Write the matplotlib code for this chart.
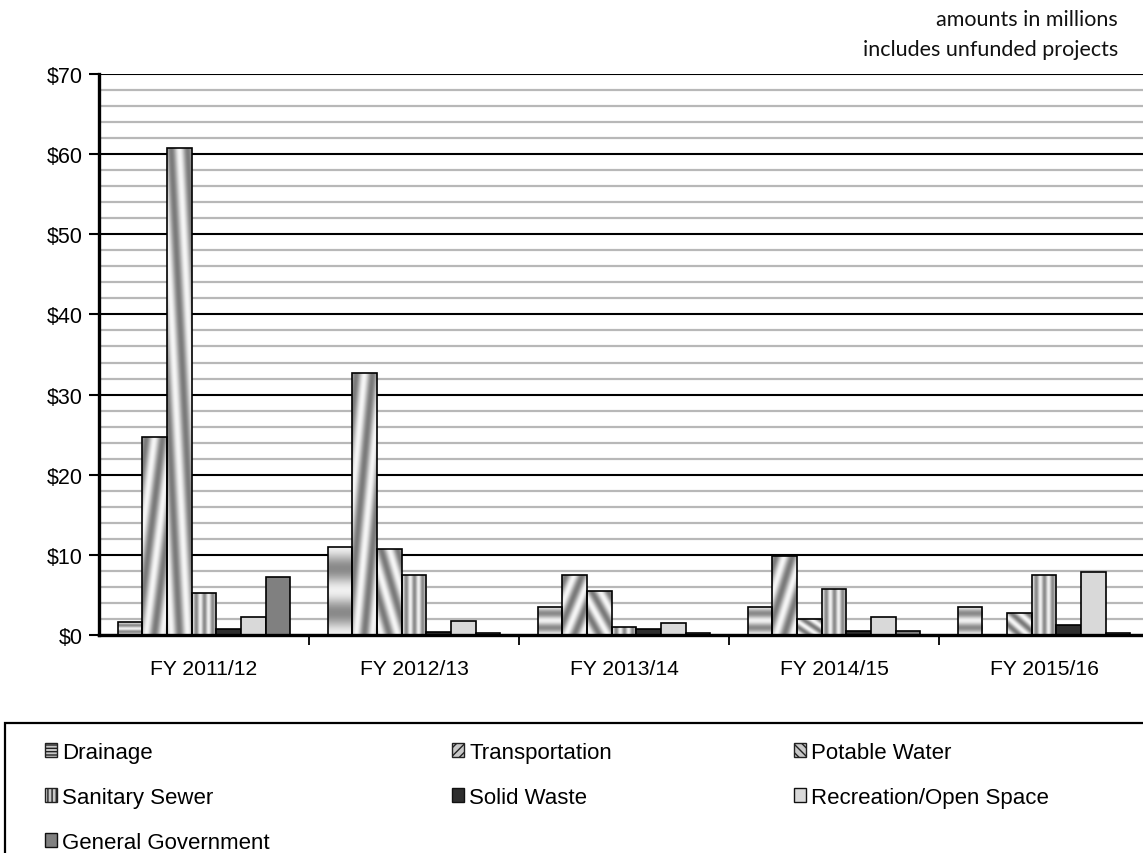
import numpy as np
import matplotlib
matplotlib.use("Agg")
import matplotlib.pyplot as plt
from matplotlib.patches import Patch, Rectangle
from matplotlib.ticker import MultipleLocator, FixedLocator, FuncFormatter

# ---------------- data ----------------
categories = ["FY 2011/12", "FY 2012/13", "FY 2013/14", "FY 2014/15", "FY 2015/16"]
series_names = ["Drainage", "Transportation", "Potable Water", "Sanitary Sewer",
                "Solid Waste", "Recreation/Open Space", "General Government"]
drainage = [1.6, 11.0, 3.5, 3.5, 3.5]
transportation = [24.7, 32.7, 7.5, 9.9, 0.0]
potable_water = [60.8, 10.7, 5.5, 2.0, 2.7]
sanitary_sewer = [5.2, 7.5, 1.0, 5.7, 7.5]
solid_waste = [0.8, 0.4, 0.8, 0.5, 1.3]
recreation = [2.3, 1.8, 1.5, 2.2, 7.8]
general_government = [7.2, 0.2, 0.3, 0.5, 0.2]
series_values = [drainage, transportation, potable_water, sanitary_sewer,
                 solid_waste, recreation, general_government]
y_tick_values = [0, 10, 20, 30, 40, 50, 60, 70]
note_lines = ["amounts in millions", "includes unfunded projects"]

# ---------------- style ----------------
plt.rcParams['font.family'] = ['Liberation Sans', 'DejaVu Sans']
W, H = 1143, 854
fig = plt.figure(figsize=(W / 100, H / 100), dpi=100)
left_px, right_px, top_px, bot_px = 99, 1149, 75, 636
ax = fig.add_axes([left_px / W, 1 - bot_px / H, (right_px - left_px) / W, (bot_px - top_px) / H])

# textures in unit square (u across, v up)
res = 160
u, v = np.meshgrid(np.linspace(0, 1, res), np.linspace(0, 1, res))
textures = {
    0: 0.74 + 0.2 * np.cos(2 * np.pi * 2 * v),
    1: 0.72 + 0.24 * np.sin(2 * np.pi * (u - v) * 1.5),
    2: 0.72 + 0.24 * np.sin(2 * np.pi * (u + v) * 1.5),
    3: 0.74 + 0.2 * np.cos(2 * np.pi * 3 * u),
}
solid_colors = {4: "#2e2e2e", 5: "#d9d9d9", 6: "#808080"}

n = len(series_names)
bw = 0.1175
x = np.arange(len(categories))
for i, vals in enumerate(series_values):
    offs = x + (i - (n - 1) / 2) * bw
    if i in textures:
        bars = ax.bar(offs, vals, width=bw, facecolor="none", edgecolor="black",
                      linewidth=1.2, zorder=4)
        for rect in bars:
            h = rect.get_height()
            if h <= 0:
                continue
            x0 = rect.get_x()
            im = ax.imshow(textures[i], extent=(x0, x0 + rect.get_width(), 0, h),
                           origin="lower", cmap="gray", vmin=0, vmax=1,
                           aspect="auto", zorder=3, interpolation="bilinear")
            im.set_clip_path(rect)
    else:
        ax.bar(offs, vals, width=bw, facecolor=solid_colors[i], edgecolor="black",
               linewidth=1.2, zorder=4)

ax.set_xlim(-0.5, len(categories) - 0.5)
ax.set_ylim(0, 70)
ax.set_aspect("auto")

# y axis
ax.yaxis.set_major_locator(FixedLocator(y_tick_values))
ax.yaxis.set_minor_locator(MultipleLocator(2))
ax.yaxis.set_major_formatter(FuncFormatter(lambda val, pos: f"${val:.0f}"))
ax.tick_params(axis="y", which="major", length=7, width=1.5, labelsize=15.5, pad=5, direction="out")
ax.tick_params(axis="y", which="minor", length=0)
ax.grid(axis="y", which="major", color="black", linewidth=1.5, zorder=1)
ax.grid(axis="y", which="minor", color="#b8b8b8", linewidth=1.6, zorder=0)

# x axis
ax.set_xticks(x)
ax.set_xticklabels(categories, fontsize=15.2)
ax.xaxis.set_minor_locator(FixedLocator(np.arange(0.5, len(categories) - 0.5, 1.0)))
ax.tick_params(axis="x", which="major", length=0, pad=17)
ax.tick_params(axis="x", which="minor", length=7, width=1.3, direction="out")

for s in ["top", "right"]:
    ax.spines[s].set_visible(False)
for s in ["left", "bottom"]:
    ax.spines[s].set_linewidth(2.4)
    ax.spines[s].set_zorder(5)
ax.set_axisbelow(False)
ax.set_facecolor("white")

# note
note_font = ["Lato", "DejaVu Sans"]
fig.text(1118 / W, 1 - 20 / H, note_lines[0], ha="right", va="center",
         fontsize=15.5, family=note_font, color="#111111")
fig.text(1118 / W, 1 - 50 / H, note_lines[1], ha="right", va="center",
         fontsize=15.5, family=note_font, color="#111111")

# legend
hatches = {0: "-----", 1: "////", 2: "\\\\\\\\", 3: "||||"}
handles = []
for i, name in enumerate(series_names):
    if i in hatches:
        handles.append(Patch(facecolor="#c8c8c8", edgecolor="#222222", hatch=hatches[i],
                             linewidth=1.0, label=name))
    else:
        handles.append(Patch(facecolor=solid_colors[i], edgecolor="#111111",
                             linewidth=1.0, label=name))
order = [0, 3, 6, 1, 4, 2, 5]
leg = fig.legend([handles[k] for k in order], [series_names[k] for k in order],
                 ncol=3, loc="upper left", bbox_to_anchor=(25 / W, 1 - 723 / H),
                 frameon=False, fontsize=16, handlelength=0.55, handleheight=0.55,
                 handletextpad=0.22, columnspacing=8.2, labelspacing=1.08,
                 borderpad=0.4)
fig.add_artist(Rectangle((5 / W, -0.02), 1.2, (854 - 724) / H + 0.02,
                         transform=fig.transFigure, fill=False,
                         edgecolor="black", linewidth=1.6))

fig.savefig("out.png", dpi=100)
